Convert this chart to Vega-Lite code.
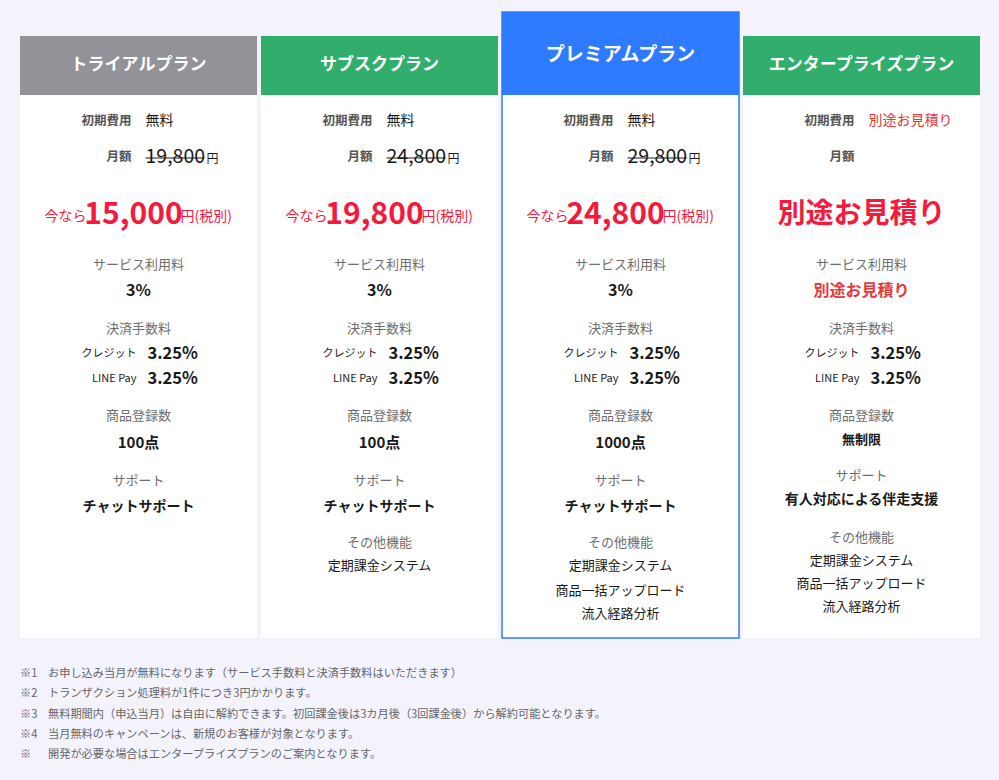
{
  "$schema": "https://vega.github.io/schema/vega-lite/v6.json",
  "width": 960,
  "height": 780,
  "autosize": {"type": "none"},
  "padding": {"left": 20, "right": 19, "top": 0, "bottom": 0},
  "background": "#f4f3fc",
  "config": {
    "view": {"stroke": null},
    "text": {"font": "Noto Sans CJK JP", "baseline": "middle"}
  },
  "datasets": {
    "cards": [
      {"plan": "トライアルプラン", "top": 1, "bottom": 4, "bodyTop": 4, "bodyBottom": 28},
      {"plan": "サブスクプラン", "top": 1, "bottom": 4, "bodyTop": 4, "bodyBottom": 28},
      {"plan": "プレミアムプラン", "top": 0, "bottom": 4, "bodyTop": 4, "bodyBottom": 28},
      {"plan": "エンタープライズプラン", "top": 1, "bottom": 4, "bodyTop": 4, "bodyBottom": 28}
    ],
    "cells": [
      {"plan": "トライアルプラン", "kind": "title", "line": 3, "text": "トライアルプラン"},
      {"plan": "サブスクプラン", "kind": "title", "line": 3, "text": "サブスクプラン"},
      {"plan": "プレミアムプラン", "kind": "titleBig", "line": 2, "text": "プレミアムプラン"},
      {"plan": "エンタープライズプラン", "kind": "title", "line": 3, "text": "エンタープライズプラン"},

      {"plan": "トライアルプラン", "kind": "feeLabel", "line": 5, "text": "初期費用"},
      {"plan": "サブスクプラン", "kind": "feeLabel", "line": 5, "text": "初期費用"},
      {"plan": "プレミアムプラン", "kind": "feeLabel", "line": 5, "text": "初期費用"},
      {"plan": "エンタープライズプラン", "kind": "feeLabel", "line": 5, "text": "初期費用"},
      {"plan": "トライアルプラン", "kind": "feeValue", "line": 5, "text": "無料"},
      {"plan": "サブスクプラン", "kind": "feeValue", "line": 5, "text": "無料"},
      {"plan": "プレミアムプラン", "kind": "feeValue", "line": 5, "text": "無料"},
      {"plan": "エンタープライズプラン", "kind": "feeValueRed", "line": 5, "text": "別途お見積り"},

      {"plan": "トライアルプラン", "kind": "feeLabel", "line": 6, "text": "月額"},
      {"plan": "サブスクプラン", "kind": "feeLabel", "line": 6, "text": "月額"},
      {"plan": "プレミアムプラン", "kind": "feeLabel", "line": 6, "text": "月額"},
      {"plan": "エンタープライズプラン", "kind": "feeLabel", "line": 6, "text": "月額"},
      {"plan": "トライアルプラン", "kind": "listPrice", "line": 6, "text": "19,800"},
      {"plan": "サブスクプラン", "kind": "listPrice", "line": 6, "text": "24,800"},
      {"plan": "プレミアムプラン", "kind": "listPrice", "line": 6, "text": "29,800"},

      {"plan": "トライアルプラン", "kind": "now", "line": 7, "text": "今なら"},
      {"plan": "サブスクプラン", "kind": "now", "line": 7, "text": "今なら"},
      {"plan": "プレミアムプラン", "kind": "now", "line": 7, "text": "今なら"},
      {"plan": "トライアルプラン", "kind": "price", "line": 7, "text": "15,000"},
      {"plan": "サブスクプラン", "kind": "price", "line": 7, "text": "19,800"},
      {"plan": "プレミアムプラン", "kind": "price", "line": 7, "text": "24,800"},
      {"plan": "トライアルプラン", "kind": "tax", "line": 7, "text": "円(税別)"},
      {"plan": "サブスクプラン", "kind": "tax", "line": 7, "text": "円(税別)"},
      {"plan": "プレミアムプラン", "kind": "tax", "line": 7, "text": "円(税別)"},
      {"plan": "エンタープライズプラン", "kind": "bigRed", "line": 7, "text": "別途お見積り"},

      {"plan": "トライアルプラン", "kind": "section", "line": 8, "text": "サービス利用料"},
      {"plan": "サブスクプラン", "kind": "section", "line": 8, "text": "サービス利用料"},
      {"plan": "プレミアムプラン", "kind": "section", "line": 8, "text": "サービス利用料"},
      {"plan": "エンタープライズプラン", "kind": "section", "line": 8, "text": "サービス利用料"},
      {"plan": "トライアルプラン", "kind": "value", "line": 9, "text": "3%"},
      {"plan": "サブスクプラン", "kind": "value", "line": 9, "text": "3%"},
      {"plan": "プレミアムプラン", "kind": "value", "line": 9, "text": "3%"},
      {"plan": "エンタープライズプラン", "kind": "valueRed", "line": 9, "text": "別途お見積り"},

      {"plan": "トライアルプラン", "kind": "section", "line": 10, "text": "決済手数料"},
      {"plan": "サブスクプラン", "kind": "section", "line": 10, "text": "決済手数料"},
      {"plan": "プレミアムプラン", "kind": "section", "line": 10, "text": "決済手数料"},
      {"plan": "エンタープライズプラン", "kind": "section", "line": 10, "text": "決済手数料"},
      {"plan": "トライアルプラン", "kind": "payLabel", "line": 11, "text": "クレジット"},
      {"plan": "サブスクプラン", "kind": "payLabel", "line": 11, "text": "クレジット"},
      {"plan": "プレミアムプラン", "kind": "payLabel", "line": 11, "text": "クレジット"},
      {"plan": "エンタープライズプラン", "kind": "payLabel", "line": 11, "text": "クレジット"},
      {"plan": "トライアルプラン", "kind": "payValue", "line": 11, "text": "3.25%"},
      {"plan": "サブスクプラン", "kind": "payValue", "line": 11, "text": "3.25%"},
      {"plan": "プレミアムプラン", "kind": "payValue", "line": 11, "text": "3.25%"},
      {"plan": "エンタープライズプラン", "kind": "payValue", "line": 11, "text": "3.25%"},
      {"plan": "トライアルプラン", "kind": "payLabel", "line": 12, "text": "LINE Pay"},
      {"plan": "サブスクプラン", "kind": "payLabel", "line": 12, "text": "LINE Pay"},
      {"plan": "プレミアムプラン", "kind": "payLabel", "line": 12, "text": "LINE Pay"},
      {"plan": "エンタープライズプラン", "kind": "payLabel", "line": 12, "text": "LINE Pay"},
      {"plan": "トライアルプラン", "kind": "payValue", "line": 12, "text": "3.25%"},
      {"plan": "サブスクプラン", "kind": "payValue", "line": 12, "text": "3.25%"},
      {"plan": "プレミアムプラン", "kind": "payValue", "line": 12, "text": "3.25%"},
      {"plan": "エンタープライズプラン", "kind": "payValue", "line": 12, "text": "3.25%"},

      {"plan": "トライアルプラン", "kind": "section", "line": 13, "text": "商品登録数"},
      {"plan": "サブスクプラン", "kind": "section", "line": 13, "text": "商品登録数"},
      {"plan": "プレミアムプラン", "kind": "section", "line": 13, "text": "商品登録数"},
      {"plan": "エンタープライズプラン", "kind": "section", "line": 13, "text": "商品登録数"},
      {"plan": "トライアルプラン", "kind": "count", "line": 14, "text": "100点"},
      {"plan": "サブスクプラン", "kind": "count", "line": 14, "text": "100点"},
      {"plan": "プレミアムプラン", "kind": "count", "line": 14, "text": "1000点"},
      {"plan": "エンタープライズプラン", "kind": "valueSmall", "line": 21, "text": "無制限"},

      {"plan": "トライアルプラン", "kind": "section", "line": 15, "text": "サポート"},
      {"plan": "サブスクプラン", "kind": "section", "line": 15, "text": "サポート"},
      {"plan": "プレミアムプラン", "kind": "section", "line": 15, "text": "サポート"},
      {"plan": "エンタープライズプラン", "kind": "section", "line": 22, "text": "サポート"},
      {"plan": "トライアルプラン", "kind": "support", "line": 16, "text": "チャットサポート"},
      {"plan": "サブスクプラン", "kind": "support", "line": 16, "text": "チャットサポート"},
      {"plan": "プレミアムプラン", "kind": "support", "line": 16, "text": "チャットサポート"},
      {"plan": "エンタープライズプラン", "kind": "support", "line": 23, "text": "有人対応による伴走支援"},

      {"plan": "サブスクプラン", "kind": "section", "line": 17, "text": "その他機能"},
      {"plan": "プレミアムプラン", "kind": "section", "line": 17, "text": "その他機能"},
      {"plan": "エンタープライズプラン", "kind": "section", "line": 24, "text": "その他機能"},
      {"plan": "サブスクプラン", "kind": "feature", "line": 18, "text": "定期課金システム"},
      {"plan": "プレミアムプラン", "kind": "feature", "line": 18, "text": "定期課金システム"},
      {"plan": "プレミアムプラン", "kind": "feature", "line": 19, "text": "商品一括アップロード"},
      {"plan": "プレミアムプラン", "kind": "feature", "line": 20, "text": "流入経路分析"},
      {"plan": "エンタープライズプラン", "kind": "feature", "line": 25, "text": "定期課金システム"},
      {"plan": "エンタープライズプラン", "kind": "feature", "line": 26, "text": "商品一括アップロード"},
      {"plan": "エンタープライズプラン", "kind": "feature", "line": 27, "text": "流入経路分析"}
    ],
    "notes": [
      {"line": 29, "mark": "※1", "text": "お申し込み当月が無料になります（サービス手数料と決済手数料はいただきます）"},
      {"line": 30, "mark": "※2", "text": "トランザクション処理料が1件につき3円かかります。"},
      {"line": 31, "mark": "※3", "text": "無料期間内（申込当月）は自由に解約できます。初回課金後は3カ月後（3回課金後）から解約可能となります。"},
      {"line": 32, "mark": "※4", "text": "当月無料のキャンペーンは、新規のお客様が対象となります。"},
      {"line": 33, "mark": "※", "text": "開発が必要な場合はエンタープライズプランのご案内となります。"}
    ]
  },
  "encoding": {
    "x": {
      "field": "plan", "type": "nominal", "axis": null,
      "scale": {"domain": ["トライアルプラン", "サブスクプラン", "プレミアムプラン", "エンタープライズプラン"], "paddingInner": 0.0166, "paddingOuter": 0}
    },
    "y": {
      "field": "line", "type": "quantitative", "axis": null,
      "scale": {
        "domain": [0, 1, 2, 3, 4, 5, 6, 7, 8, 9, 10, 11, 12, 13, 14, 15, 16, 17, 18, 19, 20, 21, 22, 23, 24, 25, 26, 27, 28, 29, 30, 31, 32, 33],
        "range": [12, 36, 55, 65, 95, 121, 157, 215, 265, 291, 329, 354, 379, 416, 443, 481, 507, 543, 566, 591, 614, 440, 476, 500, 538, 561, 584, 607, 638, 674, 694, 715, 735, 755],
        "zero": false, "nice": false, "clamp": false
      }
    }
  },
  "layer": [
    {
      "data": {"name": "cards"},
      "mark": {"type": "rect", "fill": "#ffffff"},
      "encoding": {"y": {"field": "bodyTop", "type": "quantitative"}, "y2": {"field": "bodyBottom"}}
    },
    {
      "data": {"name": "cards"},
      "mark": {"type": "rect"},
      "encoding": {
        "y": {"field": "top", "type": "quantitative"},
        "y2": {"field": "bottom"},
        "color": {"field": "plan", "type": "nominal", "legend": null,
          "scale": {"domain": ["トライアルプラン", "サブスクプラン", "プレミアムプラン", "エンタープライズプラン"], "range": ["#949299", "#31ae6c", "#2f7bff", "#31ae6c"]}}
      }
    },
    {
      "data": {"name": "cards"},
      "transform": [{"filter": "datum.plan === 'プレミアムプラン'"}],
      "mark": {"type": "rect", "filled": false, "stroke": "#2f7bff", "strokeWidth": 1.5},
      "encoding": {"y": {"field": "top", "type": "quantitative"}, "y2": {"field": "bodyBottom"}}
    },
    {
      "data": {"name": "cells"},
      "transform": [{"filter": "datum.kind === 'title'"}],
      "mark": {"type": "text", "fontSize": 17, "fontWeight": "bold", "color": "#ffffff"},
      "encoding": {"x": {"field": "plan", "type": "nominal", "bandPosition": 0.5}, "text": {"field": "text"}}
    },
    {
      "data": {"name": "cells"},
      "transform": [{"filter": "datum.kind === 'titleBig'"}],
      "mark": {"type": "text", "fontSize": 19, "fontWeight": "bold", "color": "#ffffff"},
      "encoding": {"x": {"field": "plan", "type": "nominal", "bandPosition": 0.5}, "text": {"field": "text"}}
    },
    {
      "data": {"name": "cells"},
      "transform": [{"filter": "datum.kind === 'feeLabel'"}],
      "mark": {"type": "text", "fontSize": 12.5, "fontWeight": "bold", "color": "#555555", "align": "right", "dx": -7},
      "encoding": {"x": {"field": "plan", "type": "nominal", "bandPosition": 0.5}, "text": {"field": "text"}}
    },
    {
      "data": {"name": "cells"},
      "transform": [{"filter": "datum.kind === 'feeValue'"}],
      "mark": {"type": "text", "fontSize": 14, "color": "#1a1a1a", "align": "left", "dx": 7},
      "encoding": {"x": {"field": "plan", "type": "nominal", "bandPosition": 0.5}, "text": {"field": "text"}}
    },
    {
      "data": {"name": "cells"},
      "transform": [{"filter": "datum.kind === 'feeValueRed'"}],
      "mark": {"type": "text", "fontSize": 14, "color": "#e8363c", "align": "left", "dx": 7},
      "encoding": {"x": {"field": "plan", "type": "nominal", "bandPosition": 0.5}, "text": {"field": "text"}}
    },
    {
      "data": {"name": "cells"},
      "transform": [{"filter": "datum.kind === 'listPrice'"}],
      "mark": {"type": "text", "fontSize": 19.5, "color": "#1a1a1a", "align": "left", "dx": 7},
      "encoding": {"x": {"field": "plan", "type": "nominal", "bandPosition": 0.5}, "text": {"field": "text"}}
    },
    {
      "data": {"name": "cells"},
      "transform": [{"filter": "datum.kind === 'listPrice'"}],
      "mark": {"type": "text", "fontSize": 12, "color": "#1a1a1a", "align": "left", "dx": 68, "dy": 2},
      "encoding": {"x": {"field": "plan", "type": "nominal", "bandPosition": 0.5}, "text": {"value": "円"}}
    },
    {
      "data": {"name": "cells"},
      "transform": [{"filter": "datum.kind === 'listPrice'"}],
      "mark": {"type": "rule", "color": "#1a1a1a", "strokeWidth": 1.2, "xOffset": 7, "x2Offset": 66, "yOffset": 1},
      "encoding": {
        "x": {"field": "plan", "type": "nominal", "bandPosition": 0.5},
        "x2": {"field": "plan", "bandPosition": 0.5}
      }
    },
    {
      "data": {"name": "cells"},
      "transform": [{"filter": "datum.kind === 'now'"}],
      "mark": {"type": "text", "fontSize": 14, "color": "#f5193c", "align": "right", "dx": -52, "dy": 2},
      "encoding": {"x": {"field": "plan", "type": "nominal", "bandPosition": 0.5}, "text": {"field": "text"}}
    },
    {
      "data": {"name": "cells"},
      "transform": [{"filter": "datum.kind === 'price'"}],
      "mark": {"type": "text", "fontSize": 30, "fontWeight": "bold", "color": "#f5193c", "align": "center", "dx": -5},
      "encoding": {"x": {"field": "plan", "type": "nominal", "bandPosition": 0.5}, "text": {"field": "text"}}
    },
    {
      "data": {"name": "cells"},
      "transform": [{"filter": "datum.kind === 'tax'"}],
      "mark": {"type": "text", "fontSize": 14, "color": "#f5193c", "align": "left", "dx": 42, "dy": 2},
      "encoding": {"x": {"field": "plan", "type": "nominal", "bandPosition": 0.5}, "text": {"field": "text"}}
    },
    {
      "data": {"name": "cells"},
      "transform": [{"filter": "datum.kind === 'bigRed'"}],
      "mark": {"type": "text", "fontSize": 28, "fontWeight": "bold", "color": "#f5193c"},
      "encoding": {"x": {"field": "plan", "type": "nominal", "bandPosition": 0.5}, "text": {"field": "text"}}
    },
    {
      "data": {"name": "cells"},
      "transform": [{"filter": "datum.kind === 'section'"}],
      "mark": {"type": "text", "fontSize": 13, "color": "#6e6e6e"},
      "encoding": {"x": {"field": "plan", "type": "nominal", "bandPosition": 0.5}, "text": {"field": "text"}}
    },
    {
      "data": {"name": "cells"},
      "transform": [{"filter": "datum.kind === 'value'"}],
      "mark": {"type": "text", "fontSize": 16, "fontWeight": "bold", "color": "#1a1a1a"},
      "encoding": {"x": {"field": "plan", "type": "nominal", "bandPosition": 0.5}, "text": {"field": "text"}}
    },
    {
      "data": {"name": "cells"},
      "transform": [{"filter": "datum.kind === 'valueRed'"}],
      "mark": {"type": "text", "fontSize": 16, "fontWeight": "bold", "color": "#e8363c"},
      "encoding": {"x": {"field": "plan", "type": "nominal", "bandPosition": 0.5}, "text": {"field": "text"}}
    },
    {
      "data": {"name": "cells"},
      "transform": [{"filter": "datum.kind === 'payLabel'"}],
      "mark": {"type": "text", "fontSize": 11, "color": "#1a1a1a", "align": "right", "dx": -2},
      "encoding": {"x": {"field": "plan", "type": "nominal", "bandPosition": 0.5}, "text": {"field": "text"}}
    },
    {
      "data": {"name": "cells"},
      "transform": [{"filter": "datum.kind === 'payValue'"}],
      "mark": {"type": "text", "fontSize": 16.5, "fontWeight": "bold", "color": "#1a1a1a", "align": "left", "dx": 9},
      "encoding": {"x": {"field": "plan", "type": "nominal", "bandPosition": 0.5}, "text": {"field": "text"}}
    },
    {
      "data": {"name": "cells"},
      "transform": [{"filter": "datum.kind === 'count'"}],
      "mark": {"type": "text", "fontSize": 15, "fontWeight": "bold", "color": "#1a1a1a"},
      "encoding": {"x": {"field": "plan", "type": "nominal", "bandPosition": 0.5}, "text": {"field": "text"}}
    },
    {
      "data": {"name": "cells"},
      "transform": [{"filter": "datum.kind === 'valueSmall'"}],
      "mark": {"type": "text", "fontSize": 13, "fontWeight": "bold", "color": "#1a1a1a"},
      "encoding": {"x": {"field": "plan", "type": "nominal", "bandPosition": 0.5}, "text": {"field": "text"}}
    },
    {
      "data": {"name": "cells"},
      "transform": [{"filter": "datum.kind === 'support'"}],
      "mark": {"type": "text", "fontSize": 14, "fontWeight": "bold", "color": "#1a1a1a"},
      "encoding": {"x": {"field": "plan", "type": "nominal", "bandPosition": 0.5}, "text": {"field": "text"}}
    },
    {
      "data": {"name": "cells"},
      "transform": [{"filter": "datum.kind === 'feature'"}],
      "mark": {"type": "text", "fontSize": 13, "color": "#1a1a1a"},
      "encoding": {"x": {"field": "plan", "type": "nominal", "bandPosition": 0.5}, "text": {"field": "text"}}
    },
    {
      "data": {"name": "notes"},
      "mark": {"type": "text", "fontSize": 11.2, "color": "#666666", "align": "left"},
      "encoding": {"x": {"datum": "トライアルプラン", "bandPosition": 0}, "text": {"field": "mark"}}
    },
    {
      "data": {"name": "notes"},
      "mark": {"type": "text", "fontSize": 11.2, "color": "#666666", "align": "left", "dx": 28},
      "encoding": {"x": {"datum": "トライアルプラン", "bandPosition": 0}, "text": {"field": "text"}}
    }
  ]
}
